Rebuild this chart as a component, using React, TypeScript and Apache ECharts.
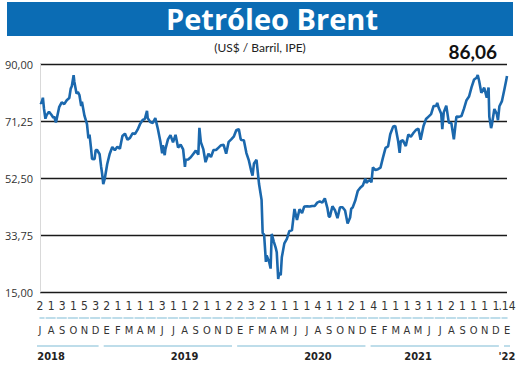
import React, { useEffect, useRef } from 'react';
import * as echarts from 'echarts';

const dates: string[] = [
  '2018-07-02','2018-07-06','2018-07-10','2018-07-13','2018-07-17','2018-07-20','2018-07-25','2018-07-27',
  '2018-08-03','2018-08-08','2018-08-10','2018-08-15','2018-08-17','2018-08-24','2018-08-31',
  '2018-09-07','2018-09-14','2018-09-21','2018-09-25','2018-09-28',
  '2018-10-03','2018-10-05','2018-10-11','2018-10-15','2018-10-19','2018-10-24','2018-10-26',
  '2018-11-02','2018-11-09','2018-11-13','2018-11-16','2018-11-20','2018-11-23','2018-11-30',
  '2018-12-03','2018-12-07','2018-12-14','2018-12-18','2018-12-21','2018-12-24','2018-12-28',
  '2019-01-04','2019-01-11','2019-01-18','2019-01-25','2019-02-01','2019-02-08','2019-02-15','2019-02-22',
  '2019-03-01','2019-03-08','2019-03-15','2019-03-22','2019-03-29','2019-04-05','2019-04-12','2019-04-18',
  '2019-04-24','2019-04-26','2019-05-03','2019-05-10','2019-05-17','2019-05-24','2019-05-31',
  '2019-06-05','2019-06-07','2019-06-12','2019-06-14','2019-06-21','2019-06-28',
  '2019-07-05','2019-07-12','2019-07-19','2019-07-26','2019-08-02','2019-08-07','2019-08-09','2019-08-16',
  '2019-08-23','2019-08-30','2019-09-06','2019-09-13','2019-09-16','2019-09-20','2019-09-27',
  '2019-10-03','2019-10-11','2019-10-18','2019-10-25','2019-11-01','2019-11-08','2019-11-15','2019-11-22',
  '2019-11-29','2019-12-06','2019-12-13','2019-12-20','2019-12-27',
  '2020-01-03','2020-01-08','2020-01-10','2020-01-17','2020-01-24','2020-01-31','2020-02-07','2020-02-10',
  '2020-02-14','2020-02-21','2020-02-28','2020-03-06','2020-03-09','2020-03-13','2020-03-18','2020-03-20',
  '2020-03-27','2020-03-31','2020-04-03','2020-04-09','2020-04-14','2020-04-17','2020-04-21','2020-04-24',
  '2020-04-28','2020-05-01','2020-05-08','2020-05-15','2020-05-22','2020-05-29','2020-06-05','2020-06-12',
  '2020-06-19','2020-06-26','2020-07-02','2020-07-10','2020-07-17','2020-07-24','2020-07-31','2020-08-07',
  '2020-08-14','2020-08-21','2020-08-28','2020-09-04','2020-09-08','2020-09-11','2020-09-18','2020-09-25',
  '2020-10-02','2020-10-09','2020-10-16','2020-10-23','2020-10-30','2020-11-06','2020-11-09','2020-11-13',
  '2020-11-20','2020-11-27','2020-12-04','2020-12-11','2020-12-18','2020-12-21','2020-12-24','2020-12-31',
  '2021-01-04','2021-01-08','2021-01-15','2021-01-22','2021-01-29','2021-02-05','2021-02-12','2021-02-19',
  '2021-02-25','2021-03-05','2021-03-11','2021-03-19','2021-03-23','2021-03-26','2021-04-01','2021-04-09',
  '2021-04-16','2021-04-23','2021-04-30','2021-05-07','2021-05-14','2021-05-20','2021-05-28','2021-06-04',
  '2021-06-11','2021-06-18','2021-06-25','2021-07-02','2021-07-05','2021-07-09','2021-07-16','2021-07-19',
  '2021-07-23','2021-07-30','2021-08-06','2021-08-13','2021-08-20','2021-08-27','2021-09-03','2021-09-10',
  '2021-09-17','2021-09-24','2021-10-01','2021-10-08','2021-10-15','2021-10-22','2021-10-25','2021-10-29',
  '2021-11-04','2021-11-12','2021-11-19','2021-11-24','2021-11-26','2021-12-01','2021-12-03','2021-12-10',
  '2021-12-17','2021-12-20','2021-12-24','2021-12-31','2022-01-07','2022-01-12','2022-01-14'
];

const prices: number[] = [
  77.3,77.1,78.9,75.3,72.0,73.1,74.0,74.3,
  73.2,72.3,72.8,70.8,71.8,75.8,77.4,
  76.8,78.1,78.8,81.9,82.7,
  86.3,84.2,80.3,80.8,79.8,76.2,77.6,
  73.0,70.2,65.5,66.8,62.5,58.8,58.7,
  61.7,61.7,60.3,56.3,53.8,50.5,52.2,
  57.1,60.5,62.7,61.6,62.8,62.1,66.3,67.1,
  65.1,65.7,67.2,67.0,68.4,70.3,71.6,71.9,
  74.6,72.2,70.9,70.6,72.2,68.7,64.5,
  60.6,63.3,60.0,62.0,65.2,66.6,
  64.2,66.7,62.5,63.5,61.9,56.2,58.5,58.6,
  59.3,60.4,61.5,60.2,69.0,64.3,61.9,
  57.7,60.5,59.4,61.7,61.7,62.5,63.3,63.4,
  60.5,64.4,65.2,66.1,68.2,
  68.6,65.4,65.0,64.9,60.7,58.2,54.5,53.3,
  57.3,58.5,50.5,45.3,34.4,33.9,24.9,27.0,
  24.9,22.7,34.1,31.5,29.6,28.1,19.3,21.4,
  20.5,26.4,31.0,32.5,35.1,35.3,42.3,38.7,
  42.2,41.0,43.1,43.2,43.1,43.3,43.3,44.4,
  44.8,44.4,45.8,42.7,39.8,39.8,43.2,41.9,
  39.3,42.9,42.9,41.8,37.5,39.5,42.4,42.8,
  45.0,48.2,49.3,50.0,52.3,50.9,51.3,51.8,
  51.1,56.0,55.1,55.4,55.9,59.3,62.4,62.9,
  66.9,69.4,69.6,64.5,60.8,64.6,64.9,63.0,
  66.8,66.1,67.3,68.3,68.7,65.1,69.6,71.9,
  72.7,73.5,76.2,76.2,77.2,75.6,73.6,68.6,
  74.1,76.3,70.7,70.6,65.2,72.7,72.6,72.9,
  75.3,78.1,79.3,82.4,84.9,85.5,86.4,84.4,
  80.5,82.2,78.9,82.3,72.7,68.9,69.9,75.2,
  73.5,71.5,76.1,77.8,81.8,84.7,86.06
];

const monthLetters: string[] = [
  'J','A','S','O','N','D',
  'E','F','M','A','M','J','J','A','S','O','N','D',
  'E','F','M','A','M','J','J','A','S','O','N','D',
  'E','F','M','A','M','J','J','A','S','O','N','D',
  'E'
];

const monthDigits: string[] = [
  '2','1','3','1','5','3',
  '2','1','1','1','1','3','1','1','2','1','1','2',
  '2','3','2','1','1','1','1','4','1','1','2','1',
  '4','1','1','1','3','1','1','2','1','1','1','1',
  '.14'
];

const years: string[] = ['2018', '2019', '2020', '2021', "'22"];
const yearLabelMonth: number[] = [1, 13, 25, 34, 42];
const yearMonthSpans: number[][] = [[0, 5], [6, 17], [18, 29], [30, 41], [42, 42]];

const titleText = 'Petróleo Brent';
const subtitleText = '(US$ / Barril, IPE)';
const lastValueText = '86,06';

const yMin = 15;
const yMax = 90;
const yStep = 18.75;

export default function App() {
  const ref = useRef<HTMLDivElement>(null);

  useEffect(() => {
    if (!ref.current) return;
    const chart = echarts.init(ref.current, null, { renderer: 'svg' });
    const narrow = '"Liberation Sans Narrow", "DejaVu Sans Condensed", "Roboto", sans-serif';

    const yearTicks: string[] = monthLetters.map(() => '');
    yearLabelMonth.forEach((m, i) => { yearTicks[m] = years[i]; });

    const baseGraphic: any[] = [
      { type: 'rect', id: 'banner', shape: { x: 7, y: 2, width: 506, height: 34 }, style: { fill: '#0b6cb4' }, z: 10 },
      { type: 'text', id: 'title', x: 272, y: 18, z: 11,
        style: { text: titleText, fill: '#ffffff', font: 'bold 29px "Open Sans", Lato, sans-serif', textAlign: 'center', textVerticalAlign: 'middle' } },
      { type: 'text', id: 'subtitle', x: 260, y: 47, z: 11,
        style: { text: subtitleText, fill: '#222', font: '12px Lato, "Open Sans", sans-serif', textAlign: 'center', textVerticalAlign: 'middle' } },
      { type: 'text', id: 'lastval', x: 497, y: 51, z: 11,
        style: { text: lastValueText, fill: '#111', font: 'bold 19px Lato, "Open Sans", sans-serif', textAlign: 'right', textVerticalAlign: 'middle' } },
    ];

    const option: any = {
      animation: false,
      backgroundColor: '#ffffff',
      grid: { left: 40, right: 13, top: 64, bottom: 74 },
      xAxis: [
        { type: 'time', min: dates[0], max: dates[dates.length - 1], show: false },
        {
          type: 'category', data: monthDigits, boundaryGap: false, position: 'bottom', offset: 0,
          axisLine: { show: false }, axisTick: { show: false }, splitLine: { show: false },
          axisLabel: { interval: 0, margin: 8, fontSize: 12, color: '#333', fontFamily: narrow }
        },
        {
          type: 'category', data: monthLetters, boundaryGap: false, position: 'bottom', offset: 26,
          axisLine: { show: true, lineStyle: { color: '#a9d2e3', width: 1.5, type: [9, 2.12], dashOffset: 4.5 } },
          axisTick: { show: false }, splitLine: { show: false },
          axisLabel: { interval: 0, margin: 7, fontSize: 11, color: '#333', fontFamily: narrow }
        },
        {
          type: 'category', data: yearTicks, boundaryGap: false, position: 'bottom', offset: 54,
          axisLine: { show: false }, axisTick: { show: false }, splitLine: { show: false },
          axisLabel: { interval: 0, margin: 5, fontSize: 11, fontWeight: 'bold', color: '#222', fontFamily: narrow }
        }
      ],
      yAxis: {
        type: 'value', min: yMin, max: yMax, interval: yStep,
        axisLine: { show: true, lineStyle: { color: '#d9d9d9', width: 1 } },
        axisTick: { show: false },
        splitLine: { show: true, lineStyle: { color: '#1a1a1a', width: 1.3 } },
        axisLabel: {
          margin: 7, fontSize: 11, color: '#333', fontFamily: '"Open Sans", sans-serif',
          formatter: (v: number) => v.toFixed(2).replace('.', ',')
        }
      },
      series: [
        {
          type: 'line', xAxisIndex: 0, yAxisIndex: 0,
          data: dates.map((d, i) => [d, prices[i]]),
          showSymbol: false, symbol: 'none',
          lineStyle: { color: '#1b68ad', width: 2.6 },
          z: 3
        }
      ],
      graphic: baseGraphic
    };

    chart.setOption(option);

    const px = (i: number) => chart.convertToPixel({ xAxisIndex: 2 }, i) as number;
    const yearLines = yearMonthSpans.map((s, i) => ({
      type: 'line', id: 'yl' + i, z: 5,
      shape: { x1: px(s[0]) - 3, y1: 346, x2: px(s[1]) + 3, y2: 346 },
      style: { stroke: '#a9d2e3', lineWidth: 1.5 }
    }));
    chart.setOption({ graphic: [...baseGraphic, ...yearLines] });

    return () => chart.dispose();
  }, []);

  return <div ref={ref} style={{ width: 520, height: 366, position: 'absolute', left: 0, top: 0 }} />;
}
